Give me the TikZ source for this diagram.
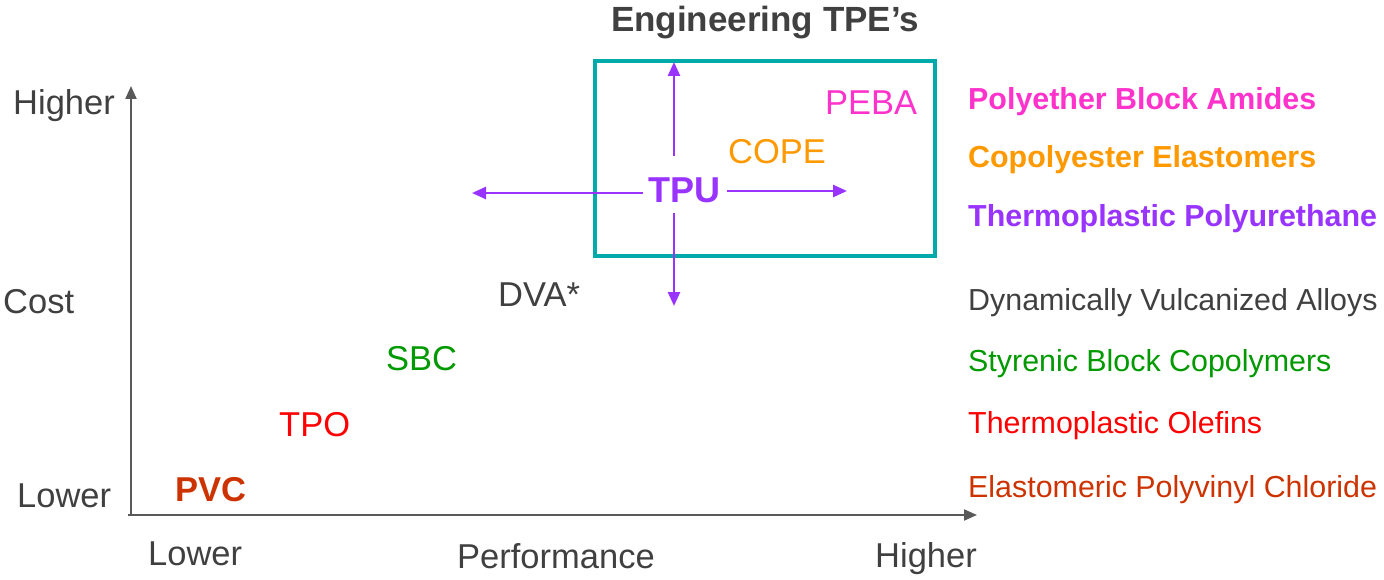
\documentclass[tikz,border=0pt]{standalone}
\usepackage{fontspec}
\setmainfont{Liberation Sans}
\usetikzlibrary{arrows.meta}
\definecolor{axisgray}{HTML}{595959}
\definecolor{txtgray}{HTML}{404040}
\definecolor{teal1}{HTML}{00A9AA}
\definecolor{purp}{HTML}{9933FF}
\definecolor{pink1}{HTML}{FF33CC}
\definecolor{orng}{HTML}{FF9900}
\definecolor{grn}{HTML}{009900}
\definecolor{rd}{HTML}{FF0000}
\definecolor{rust}{HTML}{CC3300}
\tikzset{
  big/.style={font=\fontsize{34.5}{40}\selectfont, anchor=base west, inner sep=0pt},
  bigb/.style={font=\fontsize{34.5}{40}\selectfont\bfseries, anchor=base west, inner sep=0pt},
  side/.style={font=\fontsize{30.4}{36}\selectfont, anchor=base west, inner sep=0pt},
  sideb/.style={font=\fontsize{30.4}{36}\selectfont\bfseries, anchor=base west, inner sep=0pt},
  axis/.style={draw=axisgray, line width=2pt, -{Triangle[length=13pt,width=11pt]}},
  parrow/.style={draw=purp, line width=2.5pt, -{Triangle[length=14pt,width=12pt]}},
}
\begin{document}
\begin{tikzpicture}[x=1pt,y=-1pt]
\useasboundingbox (0,0) rectangle (1384,580);
% axes
\coordinate (o) at (131,515);
\coordinate (ytip) at (131,86);
\coordinate (xtip) at (977,515);
\draw[axis] ([yshift=1pt]o) -- (ytip);
\draw[axis] ([xshift=-3pt]o) -- (xtip);
% axis labels
\node[big, text=txtgray] (yhi) at (13,115) {Higher};
\node[big, text=txtgray] (ycost) at (3,313) {Cost};
\node[big, text=txtgray] (ylo) at (17,507) {Lower};
\node[big, text=txtgray] (xlo) at (148,565) {Lower};
\node[big, text=txtgray] (xperf) at (457,568) {Performance};
\node[big, text=txtgray] (xhi) at (875,567) {Higher};
% box
\node[draw=teal1, line width=4.5pt, minimum width=340pt, minimum height=195pt, inner sep=0pt, outer sep=0pt, anchor=north west] (box) at (595,61) {};
\node[bigb, text=txtgray, anchor=base, font=\fontsize{35}{40}\selectfont\bfseries] (eng) at (765,32) {Engineering TPE’s};
% points
\node[big, text=pink1] (peba) at (825,115) {PEBA};
\node[big, text=orng] (cope) at (728,164) {COPE};
\node[bigb, text=purp, font=\fontsize{36}{42}\selectfont\bfseries] (tpu) at (648,203) {TPU};
\node[big, text=txtgray] (dva) at (498,306) {DVA*};
\node[big, text=grn] (sbc) at (386,370) {SBC};
\node[big, text=rd] (tpo) at (279,436) {TPO};
\node[bigb, text=rust] (pvc) at (175,501) {PVC};
% TPU arrows
\coordinate (up) at (674,62);
\coordinate (down) at (674,306);
\coordinate (left) at (472,193);
\coordinate (right) at (847,191);
\draw[parrow] (674,156) -- (up);
\draw[parrow] (674,213) -- (down);
\draw[parrow] (643,193) -- (left);
\draw[parrow] (727,191) -- (right);
% legend
\node[sideb, text=pink1] (l1) at (968,110) {Polyether Block Amides};
\node[sideb, text=orng] (l2) at (968,168) {Copolyester Elastomers};
\node[sideb, text=purp] (l3) at (968,226) {Thermoplastic Polyurethane};
\node[side, text=txtgray] (l4) at (968,310) {Dynamically Vulcanized Alloys};
\node[side, text=grn] (l5) at (968,371) {Styrenic Block Copolymers};
\node[side, text=rd] (l6) at (968,433) {Thermoplastic Olefins};
\node[side, text=rust] (l7) at (968,497) {Elastomeric Polyvinyl Chloride};
\end{tikzpicture}
\end{document}
